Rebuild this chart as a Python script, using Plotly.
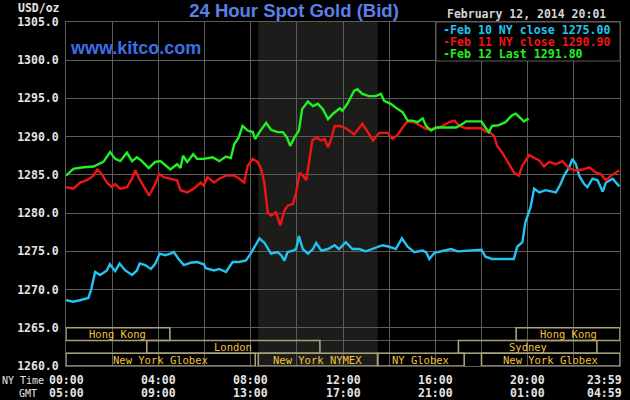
import plotly.graph_objects as go

# ---------------- data ----------------
feb10_hours = [0, 0.32, 0.6, 0.97, 1.1, 1.26, 1.48, 1.77, 1.9, 2.13, 2.32, 2.57, 2.86, 3.07, 3.19, 3.43,
               3.68, 3.87, 4.06, 4.3, 4.52, 4.67, 4.88, 5.1, 5.39, 5.68, 5.97, 6.06, 6.42, 6.64, 6.93, 7.22,
               7.5, 7.8, 8.0, 8.23, 8.38, 8.6, 8.74, 8.88, 9.17, 9.32, 9.46, 9.6, 9.83, 9.97, 10.09, 10.26,
               10.48, 10.7, 10.84, 11.06, 11.35, 11.64, 11.83, 12.12, 12.41, 12.7, 12.99, 13.28, 13.71, 14.0,
               14.29, 14.55, 14.8, 15.09, 15.45, 15.6, 15.74, 15.96, 16.32, 16.68, 16.97, 17.33, 17.77, 18.0,
               18.17, 18.46, 18.9, 19.4, 19.55, 19.77, 19.9, 20.13, 20.28, 20.5, 20.78, 21.22, 21.39, 21.58,
               21.8, 21.94, 22.09, 22.23, 22.45, 22.59, 22.81, 23.03, 23.25, 23.39, 23.68, 23.97]
feb10_values = [1268.6, 1268.4, 1268.6, 1268.9, 1270.1, 1272.3, 1271.9, 1272.5, 1273.3, 1272.4, 1273.4, 1272.5,
                1271.9, 1272.5, 1273.4, 1273.2, 1272.7, 1273.4, 1274.7, 1274.5, 1274.7, 1274.9, 1274.0, 1273.2,
                1273.5, 1273.6, 1273.3, 1272.8, 1272.5, 1272.7, 1272.3, 1273.6, 1273.6, 1273.8, 1274.7, 1276.0,
                1276.7, 1276.1, 1275.3, 1274.7, 1274.9, 1274.5, 1273.8, 1274.9, 1275.1, 1275.3, 1277.0, 1275.3,
                1274.7, 1275.3, 1276.1, 1275.1, 1275.3, 1275.8, 1275.3, 1276.2, 1275.3, 1275.3, 1275.0, 1275.3,
                1275.8, 1275.6, 1275.3, 1276.7, 1275.6, 1274.9, 1275.1, 1274.9, 1274.0, 1274.8, 1275.1, 1275.3,
                1275.0, 1275.1, 1275.2, 1275.2, 1274.3, 1274.0, 1274.0, 1274.0, 1275.6, 1276.2, 1278.8, 1280.8,
                1283.2, 1282.7, 1283.0, 1282.7, 1283.6, 1284.9, 1286.0, 1287.1, 1286.4, 1284.9, 1283.8, 1283.4,
                1284.5, 1284.3, 1282.8, 1284.0, 1284.5, 1283.5]

feb11_hours = [0, 0.32, 0.61, 0.9, 1.19, 1.36, 1.55, 1.77, 1.99, 2.13, 2.35, 2.64, 2.86, 3.0, 3.17, 3.39, 3.6,
               3.83, 4.04, 4.23, 4.52, 4.81, 4.96, 5.25, 5.54, 5.83, 5.97, 6.13, 6.42, 6.64, 6.93, 7.29, 7.51,
               7.72, 7.87, 8.09, 8.3, 8.45, 8.59, 8.74, 8.88, 9.1, 9.28, 9.46, 9.61, 9.83, 9.97, 10.12, 10.26,
               10.41, 10.55, 10.67, 10.84, 11.06, 11.2, 11.35, 11.49, 11.64, 11.86, 12.12, 12.26, 12.48, 12.84,
               13.06, 13.3, 13.57, 13.93, 14.14, 14.36, 14.58, 14.8, 15.09, 15.38, 15.6, 15.88, 16.17, 16.61,
               16.83, 17.04, 17.33, 17.77, 18.0, 18.17, 18.39, 18.54, 18.68, 18.9, 19.19, 19.41, 19.62, 19.77,
               20.06, 20.28, 20.5, 20.71, 20.93, 21.22, 21.51, 21.8, 22.09, 22.38, 22.67, 22.96, 23.17, 23.39,
               23.61, 23.83, 23.97]
feb11_values = [1283.4, 1283.2, 1284.0, 1284.3, 1284.9, 1285.7, 1285.1, 1284.0, 1283.4, 1283.8, 1283.2, 1283.4,
                1284.5, 1285.6, 1284.5, 1283.4, 1282.3, 1283.6, 1285.1, 1284.7, 1284.5, 1284.3, 1283.0, 1282.7,
                1283.2, 1284.0, 1283.6, 1284.7, 1284.0, 1284.5, 1284.9, 1284.9, 1284.5, 1284.0, 1286.2, 1287.1,
                1286.7, 1285.8, 1284.0, 1280.1, 1279.7, 1280.1, 1278.4, 1280.3, 1281.0, 1281.2, 1282.7, 1285.3,
                1284.9, 1284.3, 1287.1, 1289.5, 1289.9, 1289.5, 1289.7, 1288.6, 1289.7, 1291.4, 1291.4, 1291.1,
                1290.8, 1290.3, 1291.7, 1290.6, 1289.5, 1290.5, 1290.5, 1289.7, 1290.2, 1291.2, 1292.0, 1291.9,
                1291.4, 1291.0, 1291.0, 1291.2, 1291.9, 1292.1, 1291.4, 1291.1, 1291.1, 1291.1, 1290.7, 1290.5,
                1290.1, 1288.8, 1287.9, 1286.4, 1285.3, 1284.9, 1286.2, 1287.6, 1287.2, 1286.9, 1286.1, 1286.7,
                1286.4, 1286.8, 1285.8, 1285.6, 1285.7, 1286.0, 1285.3, 1285.1, 1284.3, 1284.9, 1285.3, 1285.6]

feb12_hours = [0, 0.32, 0.75, 1.19, 1.62, 1.91, 2.13, 2.35, 2.64, 2.86, 3.07, 3.29, 3.58, 3.87, 4.09, 4.3,
               4.52, 4.81, 4.96, 5.07, 5.25, 5.51, 5.68, 5.97, 6.35, 6.64, 6.93, 7.14, 7.29, 7.48, 7.65, 7.87,
               8.09, 8.2, 8.38, 8.67, 8.88, 9.17, 9.39, 9.57, 9.71, 9.9, 10.09, 10.23, 10.48, 10.7, 10.91,
               11.13, 11.35, 11.57, 11.86, 11.97, 12.19, 12.48, 12.62, 12.84, 13.13, 13.42, 13.64, 13.78,
               14.07, 14.29, 14.58, 14.8, 15.01, 15.23, 15.45, 15.6, 15.81, 16.03, 16.32, 16.61, 16.9, 17.19,
               17.33, 17.77, 18.0, 18.17, 18.32, 18.46, 18.75, 19.04, 19.33, 19.48, 19.7, 19.84, 19.99, 20.02]
feb12_values = [1284.9, 1285.8, 1286.0, 1286.1, 1286.7, 1288.0, 1287.1, 1286.8, 1287.9, 1286.8, 1287.3, 1286.8,
                1285.9, 1286.7, 1286.8, 1286.2, 1285.7, 1286.4, 1285.9, 1287.5, 1286.7, 1287.7, 1287.1, 1287.1,
                1287.3, 1286.8, 1287.4, 1287.2, 1289.0, 1289.9, 1291.4, 1290.8, 1290.6, 1289.7, 1290.6, 1291.8,
                1290.9, 1290.6, 1290.6, 1289.9, 1288.8, 1289.9, 1290.8, 1293.6, 1294.6, 1294.0, 1294.3, 1293.6,
                1292.3, 1293.0, 1293.7, 1293.4, 1294.3, 1296.0, 1296.2, 1295.6, 1295.3, 1295.3, 1295.6, 1294.7,
                1294.3, 1293.8, 1293.2, 1292.1, 1292.1, 1291.9, 1292.4, 1291.4, 1290.8, 1291.2, 1291.2, 1291.2,
                1291.2, 1291.7, 1292.0, 1292.0, 1292.0, 1291.2, 1290.6, 1291.4, 1291.5, 1291.9, 1292.8, 1293.0,
                1292.4, 1292.0, 1292.3, 1292.1]

legend_labels = ["-Feb 10 NY close 1275.00", "-Feb 11 NY close 1290.90", "-Feb 12 Last 1291.80"]

y_ticks = [1260, 1265, 1270, 1275, 1280, 1285, 1290, 1295, 1300, 1305]
x_tick_hours = [0, 4, 8, 12, 16, 20]
ny_tick_labels = ["00:00", "04:00", "08:00", "12:00", "16:00", "20:00"]
gmt_tick_labels = ["05:00", "09:00", "13:00", "17:00", "21:00", "01:00"]
end_ny_label = "23:59"
end_gmt_label = "04:59"

# market sessions
session_rows = [1, 1, 2, 2, 3, 3, 3, 3]
session_start = [0, 19.5, 3.5, 17.0, 0, 8.33, 13.5, 18.0]
session_end = [4.5, 24, 11.0, 23.0, 8.2, 13.5, 17.25, 24]
session_names = ["Hong Kong", "Hong Kong", "London", "Sydney",
                 "New York Globex", "New York NYMEX", "NY Globex", "New York Globex"]
nymex_open, nymex_close = 8.33, 13.5

# ---------------- styling ----------------
BLUE = "#22c3f0"
RED = "#f01414"
GREEN = "#22f022"
GRID = "#5c5c5c"
TXT = "#e4e4e4"
GOLD = "#f2c23c"
BOX = "#a8a078"
MONO = "DejaVu Sans Mono"

PL, PR, PT, PB = 66, 620, 22, 366


def px_x(x):
    return (x - PL) / (PR - PL)


def px_y(y):
    return (PB - y) / (PB - PT)


fig = go.Figure()
for hrs, vals, col in [(feb10_hours, feb10_values, BLUE),
                       (feb11_hours, feb11_values, RED),
                       (feb12_hours, feb12_values, GREEN)]:
    fig.add_trace(go.Scatter(x=hrs, y=vals, mode="lines",
                             line=dict(color=col, width=2.4), showlegend=False, hoverinfo="skip"))

shapes = []
shapes.append(dict(type="rect", xref="x", yref="paper", x0=nymex_open, x1=nymex_close, y0=0, y1=1,
                   fillcolor="#1c1d1a", line=dict(width=0), layer="below"))

row_edges = {1: (1265.0, 1263.33), 2: (1263.33, 1261.67), 3: (1261.67, 1260.0)}
for yb in [1263.33, 1261.67]:
    shapes.append(dict(type="line", xref="paper", yref="y", x0=0, x1=1, y0=yb, y1=yb,
                       line=dict(color=GRID, width=1), layer="above"))
annotations = []
for r, s, e, n in zip(session_rows, session_start, session_end, session_names):
    top, bot = row_edges[r]
    shapes.append(dict(type="rect", xref="x", yref="y", x0=s, x1=e, y0=bot, y1=top,
                       line=dict(color=BOX, width=1.6), fillcolor="rgba(0,0,0,0)", layer="above"))
    annotations.append(dict(x=(s + e) / 2, y=(top + bot) / 2, xref="x", yref="y", text=n,
                            showarrow=False, font=dict(family=MONO, size=10.5, color=GOLD),
                            xanchor="center", yanchor="middle"))

# legend box
shapes.append(dict(type="rect", xref="paper", yref="paper", x0=px_x(436), x1=1.0, y0=px_y(61), y1=1.0,
                   fillcolor="#000000", line=dict(color=GRID, width=1), layer="above"))
for i, (lab, col) in enumerate(zip(legend_labels, [BLUE, RED, GREEN])):
    annotations.append(dict(x=px_x(441), y=px_y(29.5 + 12 * i), xref="paper", yref="paper", text=lab,
                            showarrow=False, xanchor="left", yanchor="middle",
                            font=dict(family=MONO, size=11.6, color=col, weight="bold")))

# x tick labels in two time zones
tick_font = dict(family=MONO, size=11.5, color=TXT, weight="bold")
for h, ny, gmt in zip(x_tick_hours, ny_tick_labels, gmt_tick_labels):
    annotations.append(dict(x=h, y=px_y(380), xref="x", yref="paper", text=ny, showarrow=False,
                            xanchor="center", yanchor="middle", font=tick_font))
    annotations.append(dict(x=h, y=px_y(393), xref="x", yref="paper", text=gmt, showarrow=False,
                            xanchor="center", yanchor="middle", font=tick_font))
annotations.append(dict(x=24, y=px_y(380), xref="x", yref="paper", text=end_ny_label, showarrow=False,
                        xanchor="right", yanchor="middle", xshift=4, font=tick_font))
annotations.append(dict(x=24, y=px_y(393), xref="x", yref="paper", text=end_gmt_label, showarrow=False,
                        xanchor="right", yanchor="middle", xshift=4, font=tick_font))

annotations.append(dict(x=px_x(46), y=px_y(380), xref="paper", yref="paper", text="NY Time",
                        showarrow=False, xanchor="right", yanchor="middle",
                        font=dict(family=MONO, size=10, color=TXT)))
annotations.append(dict(x=px_x(39), y=px_y(393), xref="paper", yref="paper", text="GMT",
                        showarrow=False, xanchor="right", yanchor="middle",
                        font=dict(family=MONO, size=10, color=TXT)))
annotations.append(dict(x=px_x(62), y=px_y(8), xref="paper", yref="paper", text="USD/oz",
                        showarrow=False, xanchor="right", yanchor="middle",
                        font=dict(family=MONO, size=11.5, color=TXT, weight="bold")))
annotations.append(dict(x=px_x(608), y=px_y(14), xref="paper", yref="paper",
                        text="February 12, 2014 20:01", showarrow=False, xanchor="right",
                        yanchor="middle", font=dict(family=MONO, size=11.5, color="#d4d4d4", weight="bold")))
annotations.append(dict(x=px_x(68), y=px_y(48), xref="paper", yref="paper", text="www.kitco.com",
                        showarrow=False, xanchor="left", yanchor="middle",
                        font=dict(family="Liberation Sans", size=18, color="#3e6fe4", weight="bold")))

fig.update_layout(
    width=630, height=400,
    margin=dict(l=PL, r=630 - PR, t=PT, b=400 - PB, pad=0),
    paper_bgcolor="#000000", plot_bgcolor="#000000",
    title=dict(text="24 Hour Spot Gold (Bid)", x=294 / 630, xref="container", xanchor="center",
               y=1 - 11 / 400, yref="container", yanchor="middle",
               font=dict(family="Liberation Sans", size=18.5, color="#5a80e8", weight="bold")),
    shapes=shapes,
    annotations=annotations,
    showlegend=False,
    xaxis=dict(range=[0, 24], tick0=0, dtick=2, showgrid=True, gridcolor=GRID, gridwidth=1,
               showticklabels=False, zeroline=False, showline=True, linecolor=GRID, mirror=True,
               fixedrange=True),
    yaxis=dict(range=[1260, 1305], tickvals=y_ticks, tickformat=".1f", showgrid=True, gridcolor=GRID,
               gridwidth=1, zeroline=False, showline=True, linecolor=GRID, mirror=True,
               ticks="outside", ticklen=4, tickcolor="#000000",
               tickfont=dict(family=MONO, size=11.5, color=TXT, weight="bold"), fixedrange=True),
)

fig.write_html("out.html")
